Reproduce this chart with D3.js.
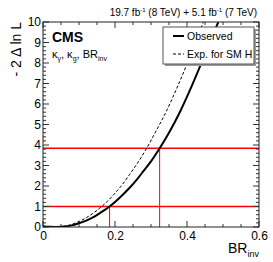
<!DOCTYPE html>
<html>
<head>
<meta charset="utf-8">
<script src="https://cdn.jsdelivr.net/npm/d3@7"></script>
<style>
  body { margin: 0; background: #fff; }
  text { font-family: "Liberation Sans", Arial, sans-serif; }
</style>
</head>
<body>
<div id="chart"></div>
<script>
// -2 delta ln L scan vs BR_inv
var observed = [
  [0.00, 0.03], [0.02, 0.01], [0.04, 0.0], [0.06, 0.02], [0.08, 0.08],
  [0.10, 0.18], [0.12, 0.31], [0.14, 0.48], [0.16, 0.70], [0.185, 1.0],
  [0.20, 1.22], [0.22, 1.55], [0.24, 1.90], [0.26, 2.30], [0.28, 2.75],
  [0.30, 3.20], [0.324, 3.84], [0.35, 4.60], [0.38, 5.60], [0.41, 6.75],
  [0.44, 8.00], [0.47, 9.30], [0.487, 10.0]
];
var expected = [
  [0.00, 0.05], [0.02, 0.01], [0.035, 0.0], [0.06, 0.04], [0.08, 0.13],
  [0.10, 0.27], [0.12, 0.45], [0.14, 0.68], [0.163, 1.0], [0.18, 1.27],
  [0.20, 1.65], [0.22, 2.06], [0.24, 2.55], [0.26, 3.05], [0.288, 3.84],
  [0.31, 4.55], [0.34, 5.55], [0.37, 6.70], [0.40, 7.95], [0.43, 9.30],
  [0.445, 10.0]
];
var levels = [1, 3.84];
var crossings = [0.185, 0.324];
var xTicks = [0, 0.2, 0.4, 0.6];
var yTicks = [0, 1, 2, 3, 4, 5, 6, 7, 8, 9, 10];

var width = 273, height = 262;
var padL = 43, padR = 259, padT = 22, padB = 227;

var svg = d3.select('#chart').append('svg')
  .attr('width', width)
  .attr('height', height);

var x = d3.scaleLinear().domain([0, 0.6]).range([padL, padR]);
var y = d3.scaleLinear().domain([0, 10]).range([padB, padT]);

svg.append('clipPath').attr('id', 'frame')
  .append('rect')
  .attr('x', padL).attr('y', padT)
  .attr('width', padR - padL).attr('height', padB - padT);

var plot = svg.append('g').attr('clip-path', 'url(#frame)');

// red reference lines
levels.forEach(function(l) {
  plot.append('line')
    .attr('x1', padL).attr('x2', padR)
    .attr('y1', y(l)).attr('y2', y(l))
    .attr('stroke', '#ff0000')
    .attr('stroke-width', 1.5);
});
crossings.forEach(function(c, i) {
  plot.append('line')
    .attr('x1', x(c)).attr('x2', x(c))
    .attr('y1', y(levels[i])).attr('y2', y(0))
    .attr('stroke', '#ff0000')
    .attr('stroke-width', 1);
});

var line = d3.line()
  .x(function(d) { return x(d[0]); })
  .y(function(d) { return y(d[1]); })
  .curve(d3.curveMonotoneX);

plot.append('path')
  .datum(expected)
  .attr('d', line)
  .attr('fill', 'none')
  .attr('stroke', '#000')
  .attr('stroke-width', 1)
  .attr('stroke-dasharray', '3,2');

plot.append('path')
  .datum(observed)
  .attr('d', line)
  .attr('fill', 'none')
  .attr('stroke', '#000')
  .attr('stroke-width', 2);

// axes with ROOT style inner ticks
var xMinor = d3.range(0, 0.6001, 0.05);
var yMinor = d3.range(0, 10.001, 0.2);

var ticks = svg.append('g').attr('stroke', '#333').attr('stroke-width', 1);
xMinor.forEach(function(v) {
  var major = xTicks.some(function(t) { return Math.abs(t - v) < 1e-6; });
  var len = major ? 6 : 3;
  ticks.append('line').attr('x1', x(v)).attr('x2', x(v))
    .attr('y1', padB).attr('y2', padB - len);
  ticks.append('line').attr('x1', x(v)).attr('x2', x(v))
    .attr('y1', padT).attr('y2', padT + len);
});
yMinor.forEach(function(v) {
  var major = Math.abs(v - Math.round(v)) < 1e-6;
  var len = major ? 6 : 3;
  ticks.append('line').attr('y1', y(v)).attr('y2', y(v))
    .attr('x1', padL).attr('x2', padL + len);
  ticks.append('line').attr('y1', y(v)).attr('y2', y(v))
    .attr('x1', padR).attr('x2', padR - len);
});

svg.append('rect')
  .attr('x', padL).attr('y', padT)
  .attr('width', padR - padL).attr('height', padB - padT)
  .attr('fill', 'none')
  .attr('stroke', '#222')
  .attr('stroke-width', 1);

var xAxis = d3.axisBottom(x).tickValues(xTicks).tickSize(0).tickPadding(4)
  .tickFormat(function(d) { return d === 0 ? '0' : d3.format('.1f')(d); });
var gx = svg.append('g').attr('transform', 'translate(0,' + padB + ')').call(xAxis);
gx.select('.domain').remove();
gx.selectAll('text').attr('font-size', 12).attr('fill', '#000')
  .attr('font-family', '"Liberation Sans", Arial, sans-serif');

var yAxis = d3.axisLeft(y).tickValues(yTicks).tickSize(0).tickPadding(2);
var gy = svg.append('g').attr('transform', 'translate(' + padL + ',0)').call(yAxis);
gy.select('.domain').remove();
gy.selectAll('text').attr('font-size', 12).attr('fill', '#000')
  .attr('font-family', '"Liberation Sans", Arial, sans-serif');

// axis titles
svg.append('text')
  .attr('transform', 'translate(21,' + padT + ') rotate(-90)')
  .attr('text-anchor', 'end')
  .attr('font-size', 14)
  .text('- 2 \u0394 ln L');

var xt = svg.append('text')
  .attr('x', padR).attr('y', 253)
  .attr('text-anchor', 'end')
  .attr('font-size', 14);
xt.append('tspan').text('BR');
xt.append('tspan').attr('font-size', 9).attr('dy', 4).text('inv');

// header
var hd = svg.append('text')
  .attr('x', padR - 2).attr('y', 16)
  .attr('text-anchor', 'end')
  .attr('font-size', 10);
hd.append('tspan').text('19.7 fb');
hd.append('tspan').attr('font-size', 6).attr('dy', -4).text('-1');
hd.append('tspan').attr('dy', 4).text(' (8 TeV) +  5.1 fb');
hd.append('tspan').attr('font-size', 6).attr('dy', -4).text('-1');
hd.append('tspan').attr('dy', 4).text(' (7 TeV)');

svg.append('text')
  .attr('x', 52).attr('y', 42)
  .attr('font-size', 14)
  .attr('font-weight', 'bold')
  .text('CMS');

var sub = svg.append('text')
  .attr('x', 52).attr('y', 58)
  .attr('font-size', 11);
sub.append('tspan').text('\u03ba');
sub.append('tspan').attr('font-size', 7).attr('dy', 3).text('\u03b3');
sub.append('tspan').attr('dy', -3).text(', \u03ba');
sub.append('tspan').attr('font-size', 7).attr('dy', 3).text('g');
sub.append('tspan').attr('dy', -3).text(', BR');
sub.append('tspan').attr('font-size', 7).attr('dy', 3).text('inv');

// legend
var lg = svg.append('g');
lg.append('rect')
  .attr('x', 165).attr('y', 29)
  .attr('width', 91).attr('height', 37)
  .attr('fill', '#999');
lg.append('rect')
  .attr('x', 163).attr('y', 27)
  .attr('width', 91).attr('height', 37)
  .attr('fill', '#fff')
  .attr('stroke', '#555')
  .attr('stroke-width', 1);
var entries = [
  { label: 'Observed', width: 2, dash: null },
  { label: 'Exp. for SM H', width: 1, dash: '3,2' }
];
entries.forEach(function(e, i) {
  var yy = 36 + i * 18;
  lg.append('line')
    .attr('x1', 173).attr('x2', 184)
    .attr('y1', yy).attr('y2', yy)
    .attr('stroke', '#000')
    .attr('stroke-width', e.width)
    .attr('stroke-dasharray', e.dash);
  lg.append('text')
    .attr('x', 187).attr('y', yy + 4)
    .attr('font-size', 10.5)
    .text(e.label);
});
</script>
</body>
</html>
